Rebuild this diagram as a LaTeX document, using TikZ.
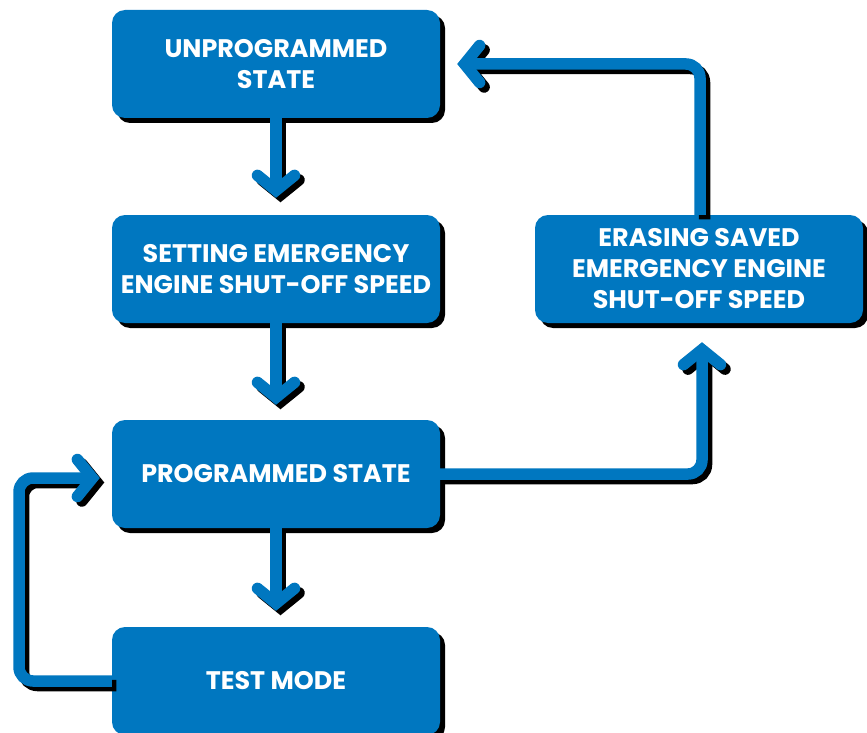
\documentclass[tikz,border=0pt]{standalone}
\usepackage{fontspec}
\setmainfont{Poppins}
\usetikzlibrary{arrows.meta,shadows,calc}
\definecolor{boxblue}{RGB}{0,119,192}
\tikzset{
 box/.style={rectangle, rounded corners=13pt, fill=boxblue, minimum width=328pt, minimum height=108pt, text=white, align=center, inner sep=0pt, font=\fontsize{25.4}{31}\selectfont\bfseries, drop shadow={shadow xshift=5pt, shadow yshift=-5pt, fill=black, opacity=1}},
 flowline/.style={line width=11.5pt, rounded corners=14pt, -{Straight Barb[length=15pt, width=37pt, line cap=round, line join=miter]}},
 blueline/.style={flowline, draw=boxblue},
 shadowline/.style={flowline, draw=black, transform canvas={xshift=4.5pt, yshift=-4.5pt}},
}
\newcommand\flowconn[2]{\draw[shadowline,#1] #2; \draw[blueline,#1] #2;}
\begin{document}
\begin{tikzpicture}[x=1pt,y=1pt]
\useasboundingbox (0,0) rectangle (867,-733);
\fill[white] (0,0) rectangle (867,-733);
\node[box] (unp) at (276,-64) {UNPROGRAMMED\\STATE};
\node[box] (set) at (276,-269) {SETTING EMERGENCY\\ENGINE SHUT-OFF SPEED};
\node[box] (prog) at (276,-474) {PROGRAMMED STATE};
\node[box] (test) at (276,-681) {TEST MODE};
\node[box] (erase) at (699,-269) {ERASING SAVED\\EMERGENCY ENGINE\\SHUT-OFF SPEED};
\coordinate (lft) at (19,-478);
\flowconn{shorten >=17pt}{(unp.south) -- (set.north)}
\flowconn{shorten >=15pt}{(set.south) -- (prog.north)}
\flowconn{shorten >=16pt}{(prog.south) -- (test.north)}
\flowconn{shorten >=19pt}{(prog.east) -| ([xshift=3pt]erase.south)}
\flowconn{shorten >=17pt}{([xshift=1pt]erase.north) |- (unp.east)}
\flowconn{shorten >=12pt}{(test.west) -| (lft) -- ([yshift=-4pt]prog.west)}
\end{tikzpicture}
\end{document}
